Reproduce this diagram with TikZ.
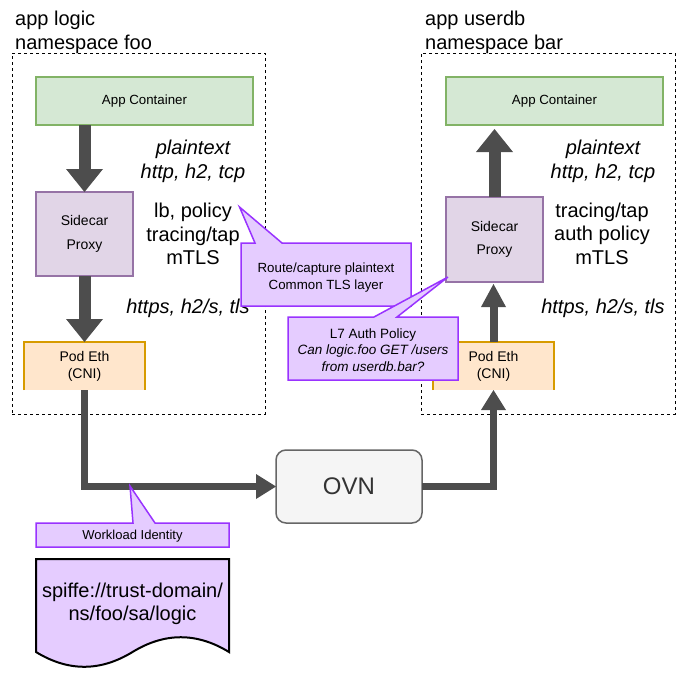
\documentclass[tikz,border=0pt]{standalone}
\usepackage{fontspec}
\setmainfont{Liberation Sans}
\usetikzlibrary{arrows.meta,calc}
\definecolor{greenF}{HTML}{D5E8D4}
\definecolor{greenS}{HTML}{82B366}
\definecolor{purpF}{HTML}{E1D5E7}
\definecolor{purpS}{HTML}{9673A6}
\definecolor{orangeF}{HTML}{FFE6CC}
\definecolor{orangeS}{HTML}{D79B00}
\definecolor{callF}{HTML}{E5CCFF}
\definecolor{callS}{HTML}{9933FF}
\definecolor{arrowC}{HTML}{4D4D4D}
\definecolor{ovnF}{HTML}{F5F5F5}
\definecolor{ovnS}{HTML}{666666}
\definecolor{ovnT}{HTML}{333333}
\begin{document}
\begin{tikzpicture}[x=1pt,y=-1pt,
  box/.style={inner sep=0pt, outer sep=0pt, line width=1.5pt, align=center},
  appbox/.style={box, draw=greenS, fill=greenF, minimum width=217pt, minimum height=48pt, font=\fontsize{13.3}{16}\selectfont},
  sidebox/.style={box, draw=purpS, fill=purpF, minimum width=97pt, font=\fontsize{14}{17}\selectfont},
  podbox/.style={box, fill=orangeF, minimum width=121pt, minimum height=48pt, font=\fontsize{14}{17}\selectfont},
  podline/.style={draw=orangeS, line width=1.5pt},
  nsbox/.style={inner sep=0pt, outer sep=0pt, draw=black, line width=1pt, dash pattern=on 3pt off 3pt, minimum height=361pt},
  title/.style={inner sep=0pt, anchor=base west, font=\fontsize{20}{24}\selectfont},
  biglbl/.style={inner sep=0pt, align=center, font=\fontsize{20}{23.5}\selectfont},
  itlbl/.style={biglbl, font=\fontsize{20}{23.5}\selectfont\itshape},
  blockarrow/.style={draw=arrowC, line width=12pt, -{Triangle[length=23pt,width=37pt,line width=0pt]}},
  thinblock/.style={draw=arrowC, line width=8pt, -{Triangle[length=23pt,width=25pt,line width=0pt]}},
  conn/.style={draw=arrowC, line width=7pt, miter limit=10, -{Triangle[length=20pt,width=25pt,line width=0pt]}},
  callout/.style={fill=callF, draw=callS, line width=1.5pt, line join=miter},
  calltext/.style={inner sep=0pt, align=center, font=\fontsize{13.3}{16.5}\selectfont},
  docshape/.style={fill=callF, draw=black, line width=2pt},
]
\useasboundingbox (0,0) rectangle (697,681);

% namespaces
\node[nsbox, minimum width=253pt] (nsL) at (138.5,233.5) {};
\node[nsbox, minimum width=254pt] (nsR) at (548,233.5) {};
\node[title] (tL1) at (15,25) {app logic};
\node[title] (tL2) at (15,49) {namespace foo};
\node[title] (tR1) at (425,25) {app userdb};
\node[title] (tR2) at (425,49) {namespace bar};

% left pod
\node[appbox] (appL) at (144.5,101) {App Container};
\node[sidebox, minimum height=84pt] (sideL) at (84.5,234) {Sidecar\\[6.5pt]Proxy};
\node[podbox] (podL) at (84.5,366) {Pod Eth\\(CNI)};
\draw[podline] (podL.south west) -- (podL.north west) -- (podL.north east) -- (podL.south east);

% right pod
\node[appbox] (appR) at (554.5,101) {App Container};
\node[sidebox, minimum height=85pt] (sideR) at (494.5,239.5) {Sidecar\\[6.5pt]Proxy};
\node[podbox] (podR) at (493.5,366) {Pod Eth\\(CNI)};
\draw[podline] (podR.south west) -- (podR.north west) -- (podR.north east) -- (podR.south east);

% block arrows
\draw[blockarrow] (sideL.north |- appL.south) -- (sideL.north);
\draw[blockarrow] (sideL.south) -- (sideL.south |- podL.north);
\draw[blockarrow] (sideR.north) -- ($(sideR.north |- appR.south)+(0,4)$);
\draw[thinblock] (podR.north) -- ($(sideR.south)+(-1,2)$);

% labels
\node[itlbl] (pL) at (193,161.4) {plaintext\\http, h2, tcp};
\node[biglbl] (fL) at (193,234.2) {lb, policy\\tracing/tap\\mTLS};
\node[itlbl, anchor=base] (hL) at (188,313) {https, h2/s, tls};
\node[itlbl] (pR) at (603,161.4) {plaintext\\http, h2, tcp};
\node[biglbl] (fR) at (602,233.8) {tracing/tap\\auth policy\\mTLS};
\node[itlbl, anchor=base] (hR) at (603,313) {https, h2/s, tls};

% OVN
\node[box, draw=ovnS, fill=ovnF, rounded corners=10pt, minimum width=146pt, minimum height=73pt, text=ovnT, font=\fontsize{24}{28}\selectfont] (ovn) at (349,486.5) {OVN};
\draw[conn] (podL.south) |- (ovn.west);
\draw[conn] (ovn.east) -| (podR.south);

% callouts
\draw[callout] (241,243) -- (255,243) -- (239.5,207) -- (282,243) -- (411,243) -- (411,306) -- (241,306) -- cycle;
\node[calltext] (route) at (326,277.5) {Route/capture plaintext\\Common TLS layer};

\draw[callout] (288,317) -- (374,317) -- (448,277) -- (397,317) -- (458,317) -- (458,380) -- (288,380) -- cycle;
\node[calltext, font=\fontsize{13.5}{16.5}\selectfont] (l7) at (373,350) {L7 Auth Policy\\\textit{Can logic.foo GET /users}\\\textit{from userdb.bar?}};

\draw[callout] (36,523) -- (133,523) -- (130,486) -- (155,523) -- (229,523) -- (229,547) -- (36,547) -- cycle;
\node[calltext, font=\fontsize{13}{16}\selectfont] (wid) at (132.5,536.5) {Workload Identity};

% document
\draw[docshape] (36,559) -- (229,559) -- (229,652) .. controls (196.8,632.3) and (164.7,632.3) .. (132.5,652) .. controls (100.3,671.7) and (68.2,671.7) .. (36,652) -- cycle;
\node[biglbl, font=\fontsize{20}{23}\selectfont] (spiffe) at (132.5,604) {spiffe://trust-domain/\\ns/foo/sa/logic};
\end{tikzpicture}
\end{document}
